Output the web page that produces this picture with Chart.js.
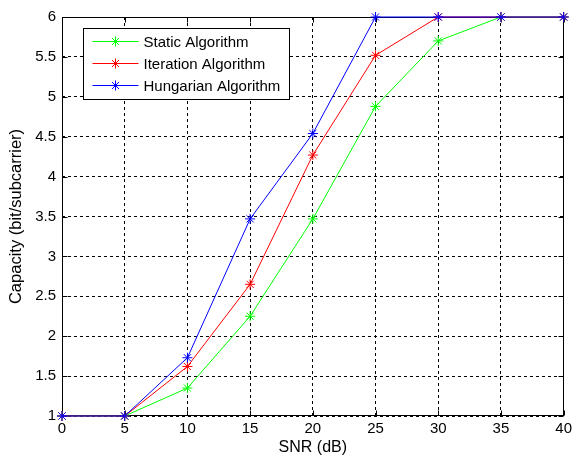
<!DOCTYPE html>
<html lang="en">
<head>
<meta charset="UTF-8">
<title>Capacity vs SNR</title>
<script src="https://cdn.jsdelivr.net/npm/chart.js"></script>
<style>
  html, body { margin: 0; padding: 0; background: #fff; }
  #wrap { width: 576px; height: 459px; }
</style>
</head>
<body>
<div id="wrap"><canvas id="capChart" width="576" height="459"></canvas></div>
<script>
// values
const snrDb = [0, 5, 10, 15, 20, 25, 30, 35, 40];
const staticCap = [1, 1, 1.35, 2.25, 3.47, 4.88, 5.70, 6, 6];
const iterationCap = [1, 1, 1.62, 2.65, 4.27, 5.52, 6, 6, 6];
const hungarianCap = [1, 1, 1.73, 3.47, 4.54, 6, 6, 6, 6];
const seriesNames = ['Static Algorithm', 'Iteration Algorithm', 'Hungarian Algorithm'];
const seriesColors = ['#00ff00', '#ff0000', '#0000ff'];
const xTicks = [0, 5, 10, 15, 20, 25, 30, 35, 40];
const yTicks = [1, 1.5, 2, 2.5, 3, 3.5, 4, 4.5, 5, 5.5, 6];

const FONT = "'Liberation Sans', Arial, sans-serif";
Chart.defaults.font.family = FONT;
Chart.defaults.color = '#000';

function toPoints(ys) {
    return snrDb.map((x, i) => ({ x: x, y: ys[i] }));
}

// matlab style box with inward ticks
const boxPlugin = {
    id: 'box',
    beforeDatasetsDraw(chart) {
        const { ctx, chartArea: a, scales: { x, y } } = chart;
        const L = Math.round(a.left) + 0.5, R = Math.round(a.right) - 0.5;
        const T = Math.round(a.top) + 0.5, B = Math.round(a.bottom) - 0.5;
        ctx.save();
        ctx.strokeStyle = '#000';
        ctx.lineWidth = 1;
        ctx.beginPath();
        xTicks.forEach(v => {
            const px = Math.round(x.getPixelForValue(v)) + 0.5;
            ctx.moveTo(px, B); ctx.lineTo(px, B - 5);
            ctx.moveTo(px, T); ctx.lineTo(px, T + 5);
        });
        yTicks.forEach(v => {
            const py = Math.round(y.getPixelForValue(v)) + 0.5;
            ctx.moveTo(L, py); ctx.lineTo(L + 5, py);
            ctx.moveTo(R, py); ctx.lineTo(R - 5, py);
        });
        ctx.stroke();
        ctx.strokeRect(L, T, R - L, B - T);
        ctx.restore();
    }
};

// legend drawn inside the axes, top-left
const legendPlugin = {
    id: 'innerLegend',
    afterDraw(chart) {
        const { ctx, chartArea: a } = chart;
        const bx = Math.round(a.left) + 21.5, by = Math.round(a.top) + 11.5;
        const bw = 206, bh = 71;
        ctx.save();
        ctx.fillStyle = '#fff';
        ctx.fillRect(bx, by, bw, bh);
        ctx.strokeStyle = '#000';
        ctx.lineWidth = 1;
        ctx.strokeRect(bx, by, bw, bh);
        ctx.font = '15px ' + FONT;
        ctx.textBaseline = 'middle';
        ctx.textAlign = 'left';
        seriesNames.forEach((name, i) => {
            const ry = by + 13 + i * 22;
            ctx.strokeStyle = seriesColors[i];
            ctx.beginPath();
            ctx.moveTo(bx + 9, ry);
            ctx.lineTo(bx + 55, ry);
            ctx.stroke();
            Chart.helpers.drawPoint(ctx, { pointStyle: 'star', radius: 5, borderWidth: 1, rotation: 0 }, bx + 32, ry);
            ctx.fillStyle = '#000';
            ctx.fillText(name, bx + 60, ry + 1);
        });
        ctx.restore();
    }
};

function makeSet(i, ys, order) {
    return {
        label: seriesNames[i],
        data: toPoints(ys),
        borderColor: seriesColors[i],
        backgroundColor: seriesColors[i],
        borderWidth: 1,
        pointStyle: 'star',
        pointRadius: 5,
        pointBorderWidth: 1,
        pointBorderColor: seriesColors[i],
        tension: 0,
        clip: false,
        order: order
    };
}

const ctx = document.getElementById('capChart').getContext('2d');
const capChart = new Chart(ctx, {
    type: 'line',
    data: {
        datasets: [
            makeSet(0, staticCap, 3),
            makeSet(1, iterationCap, 2),
            makeSet(2, hungarianCap, 1)
        ]
    },
    options: {
        responsive: false,
        animation: false,
        events: [],
        layout: { padding: { top: 17, right: 8, left: 0, bottom: 0 } },
        plugins: { legend: { display: false }, tooltip: { enabled: false } },
        scales: {
            x: {
                type: 'linear',
                min: 0, max: 40,
                afterFit: s => { s.height = 43; },
                afterBuildTicks: s => { s.ticks = xTicks.map(v => ({ value: v })); },
                ticks: { font: { size: 15 }, padding: 4, maxRotation: 0, callback: v => String(v) },
                grid: { color: '#000', lineWidth: 1, drawTicks: false },
                border: { display: false, dash: [3, 3] },
                title: { display: true, text: 'SNR (dB)', font: { size: 16 }, padding: { top: 0, bottom: 2 } }
            },
            y: {
                min: 1, max: 6,
                afterFit: s => { s.width = 62; },
                afterBuildTicks: s => { s.ticks = yTicks.map(v => ({ value: v })); },
                ticks: { font: { size: 15 }, padding: 6, callback: v => String(v) },
                grid: { color: '#000', lineWidth: 1, drawTicks: false },
                border: { display: false, dash: [3, 3] },
                title: { display: true, text: 'Capacity (bit/subcarrier)', font: { size: 16.5 }, padding: { top: 7, bottom: 0 } }
            }
        }
    },
    plugins: [boxPlugin, legendPlugin]
});
</script>
</body>
</html>
